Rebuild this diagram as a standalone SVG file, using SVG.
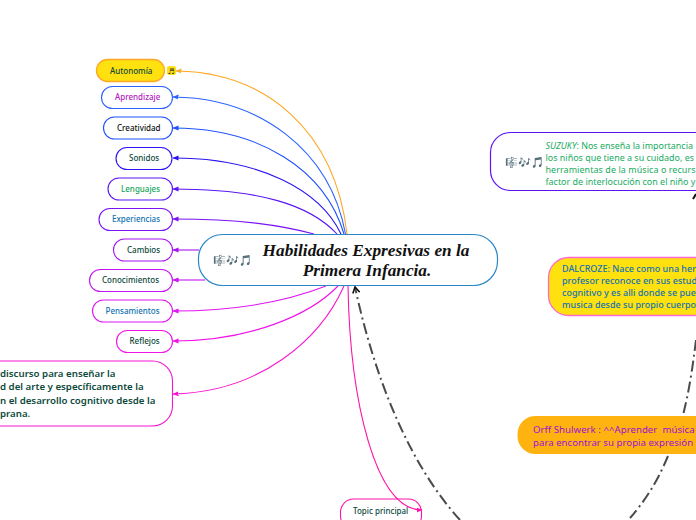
<svg xmlns="http://www.w3.org/2000/svg" width="696" height="520" viewBox="0 0 696 520">
<style>
text{font-family:"Noto Sans","DejaVu Sans",sans-serif;font-size:8px;font-weight:500;white-space:pre}
.c{fill:none;stroke-width:1.1}
.n{fill:#fff;stroke-width:1.1}
.d{fill:none;stroke:#4a4a4a;stroke-width:2;stroke-dasharray:11 4 2 4}
.g{font-family:"DejaVu Sans",sans-serif;font-size:10.500px;fill:#333;font-weight:700}
.l{font-size:9.700px;font-weight:600;fill:#0d4a3c}
.s{font-size:8.950px;font-weight:400;fill:#18ab62}
.z{font-size:9px;fill:#1272b0}
.o{font-size:9.700px;font-weight:400;fill:#a010d0}
.t{font-family:"Liberation Serif",serif;font-size:17.300px;font-weight:700;font-style:italic;fill:#111}
</style>
<defs>
<marker id="m" viewBox="0 0 6 6" refX="5.500" refY="3" markerWidth="6" markerHeight="6" markerUnits="userSpaceOnUse" orient="auto"><path d="M0 0.500L6 3L0 5.500z" fill="context-stroke"/></marker>
<marker id="k" viewBox="0 0 8 8" refX="7" refY="4" markerWidth="8" markerHeight="8" markerUnits="userSpaceOnUse" orient="auto"><path d="M1 0.500L7 4L1 7.500" fill="none" stroke="#111" stroke-width="1.600"/></marker>
</defs>
<g id="connectors">
<path class="c" stroke="#ffa726" marker-end="url(#m)" d="M347 234C335 130 265 72 176 71"/>
<path class="c" stroke="#2962ff" marker-end="url(#m)" d="M345.500 234C330 150 260 98 173 97"/>
<path class="c" stroke="#1e50ff" marker-end="url(#m)" d="M344 234C325 170 260 128 173 128"/>
<path class="c" stroke="#2a14f0" marker-end="url(#m)" d="M341 234C320 190 260 158 173 158"/>
<path class="c" stroke="#5a14f5" marker-end="url(#m)" d="M337 234C310 205 260 189 173 189"/>
<path class="c" stroke="#7a14f5" marker-end="url(#m)" d="M314 234C280 225 240 219 173 219"/>
<path class="c" stroke="#a514f5" marker-end="url(#m)" d="M199 250L173 250"/>
<path class="c" stroke="#c414f5" marker-end="url(#m)" d="M205 280L173 280"/>
<path class="c" stroke="#e014f5" marker-end="url(#m)" d="M326 286C290 300 240 311 173 311"/>
<path class="c" stroke="#f014e8" marker-end="url(#m)" d="M338 286C310 315 250 341 173 341"/>
<path class="c" stroke="#f814d0" marker-end="url(#m)" d="M344 286C320 340 260 392 173 394"/>
<path class="d" marker-end="url(#k)" d="M460 520C410 465 375 380 355 287"/>
<path class="d" d="M696 340C693 365 689 392 683 415"/>
<path class="d" d="M668 456C660 475 650 495 630 518"/>
<path d="M693 199L696 194" fill="none" stroke="#111" stroke-width="2"/>
</g>
<g id="autonomia">
<rect x="96.500" y="59.500" width="68" height="22" rx="11" fill="#ffe110" stroke="#ffa726" stroke-width="1.300"/>
<text x="110" y="74" fill="#0d4a3c">Autonomía</text>
<rect x="167" y="66" width="9" height="9" rx="2" fill="#ffe110"/>
<text x="167.500" y="74" style="font-family:'DejaVu Sans';font-size:8px" fill="#333">♬</text>
</g>
<g id="aprendizaje"><rect class="n" x="101.500" y="86.500" width="71" height="22" rx="11" stroke="#2962ff"/><text x="115" y="100" fill="#b020c0">Aprendizaje</text></g>
<g id="creatividad"><rect class="n" x="103.500" y="117" width="69" height="22" rx="11" stroke="#1e50ff"/><text x="117" y="131" fill="#111">Creatividad</text></g>
<g id="sonidos"><rect class="n" x="116" y="147.500" width="56" height="22" rx="11" stroke="#2a14f0"/><text x="129" y="161" fill="#0d4a3c">Sonidos</text></g>
<g id="lenguajes"><rect class="n" x="108" y="178" width="64.500" height="22" rx="11" stroke="#5a14f5"/><text x="121" y="192" fill="#12a75a">Lenguajes</text></g>
<g id="experiencias"><rect class="n" x="99" y="208.500" width="73.500" height="22" rx="11" stroke="#7a14f5"/><text x="112" y="222" fill="#1272b0">Experiencias</text></g>
<g id="cambios"><rect class="n" x="113.500" y="239" width="59" height="22" rx="11" stroke="#a514f5"/><text x="127" y="253" fill="#0d4a3c">Cambios</text></g>
<g id="conocimientos"><rect class="n" x="89.500" y="269.500" width="83" height="22" rx="11" stroke="#c414f5"/><text x="102" y="283" fill="#0d4a3c">Conocimientos</text></g>
<g id="pensamientos"><rect class="n" x="92.500" y="300" width="80" height="22" rx="11" stroke="#e014f5"/><text x="105.500" y="314" fill="#1272b0">Pensamientos</text></g>
<g id="reflejos"><rect class="n" x="116.500" y="330.500" width="56" height="22" rx="11" stroke="#f014e8"/><text x="129.500" y="344" fill="#0d4a3c">Reflejos</text></g>
<g id="discurso"><rect class="n" x="-30" y="361" width="202.500" height="65" rx="20" stroke="#f814d0"/>
<text class="l" x="0" y="377">discurso para enseñar la</text>
<text class="l" x="0" y="390">d del arte y específicamente la</text>
<text class="l" x="0" y="403.500">n el desarrollo cognitivo desde la</text>
<text class="l" x="0" y="417">prana.</text></g>
<g id="topic"><rect class="n" x="340.500" y="499" width="81" height="30" rx="13" stroke="#ff14a8"/><text x="353" y="514" fill="#0d4a3c">Topic principal</text></g>
<g id="connector-topic"><path class="c" stroke="#ff14a8" marker-end="url(#m)" d="M348 286C350 400 375 510 422 510"/></g>
<g id="main"><rect x="198.500" y="234.500" width="299" height="51" rx="24" fill="#fff" stroke="#2a88c8" stroke-width="1.200"/>
<text class="g" x="213" y="264">🎼🎶🎵</text>
<text class="t" x="366" y="256" text-anchor="middle">Habilidades Expresivas en la</text>
<text class="t" x="367" y="276" text-anchor="middle">Primera Infancia.</text></g>
<g id="suzuky"><rect x="490.500" y="132.500" width="240" height="58" rx="20" fill="#fff" stroke="#5a14f5" stroke-width="1.200"/>
<text class="g" x="505" y="166">🎼🎶🎵</text>
<text class="s" x="545.500" y="148.500"><tspan font-style="italic">SUZUKY</tspan>: Nos enseña la importancia</text>
<text class="s" x="545.500" y="160.500">los niños que tiene a su cuidado, es</text>
<text class="s" x="545.500" y="172.500" textLength="150">herramientas de la música o recurs</text>
<text class="s" x="545.500" y="184.500">factor de interlocución con el niño y</text></g>
<g id="dalcroze"><rect x="548.500" y="257.500" width="190" height="58" rx="20" fill="#ffe110" stroke="#ff69d0" stroke-width="1.300"/>
<text class="z" x="562" y="272">DALCROZE: Nace como una her</text>
<text class="z" x="562" y="284">profesor reconoce en sus estud</text>
<text class="z" x="562" y="296">cognitivo y es alli donde se pue</text>
<text class="z" x="562" y="308">musica desde su propio cuerpo</text></g>
<g id="orff"><rect x="517.500" y="416" width="220" height="38" rx="18" fill="#ffb310"/>
<text class="o" x="533" y="433">Orff Shulwerk : ^^Aprender  música</text>
<text class="o" x="533" y="446">para encontrar su propia expresión</text></g>
</svg>
